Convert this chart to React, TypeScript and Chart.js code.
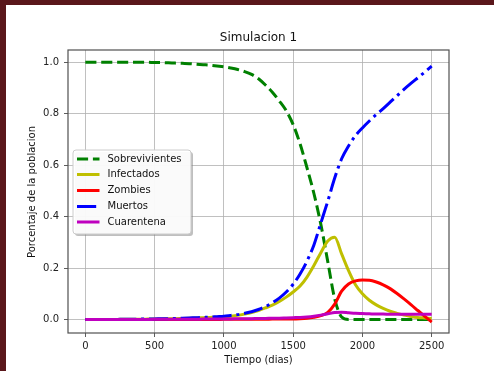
import React, { useEffect, useRef } from "react";
import { Chart, registerables } from "chart.js";

Chart.register(...registerables);

const days = [0, 50, 100, 150, 200, 250, 300, 350, 400, 450, 500, 550, 600, 650, 700, 750, 800, 850, 900, 950, 1000, 1050, 1100, 1150, 1200, 1250, 1300, 1350, 1400, 1450, 1500, 1550, 1600, 1650, 1700, 1750, 1800, 1850, 1900, 1950, 2000, 2050, 2100, 2150, 2200, 2250, 2300, 2350, 2400, 2450, 2500];

const sobrevivientes = [1, 1, 1, 1, 1, 1, 1, 1, 1, 1, 0.999, 0.999, 0.998, 0.997, 0.996, 0.995, 0.993, 0.991, 0.989, 0.986, 0.983, 0.978, 0.972, 0.964, 0.953, 0.936, 0.912, 0.884, 0.85, 0.812, 0.758, 0.683, 0.59, 0.49, 0.37, 0.225, 0.08, 0.01, 0, 0, 0, 0, 0, 0, 0, 0, 0, 0, 0, 0, 0];

const infectados = [0, 0, 0, 0, 0, 0.0005, 0.001, 0.001, 0.001, 0.0015, 0.002, 0.002, 0.003, 0.003, 0.004, 0.005, 0.006, 0.007, 0.008, 0.009, 0.011, 0.013, 0.016, 0.021, 0.027, 0.035, 0.045, 0.056, 0.07, 0.087, 0.107, 0.13, 0.165, 0.21, 0.26, 0.305, 0.32, 0.255, 0.19, 0.135, 0.1, 0.075, 0.057, 0.043, 0.032, 0.024, 0.017, 0.012, 0.008, 0.006, 0.004];

const zombies = [0, 0, 0, 0, 0, 0, 0, 0, 0, 0, 0, 0, 0, 0, 0, 0, 0, 0, 0, 0, 0.0005, 0.0005, 0.001, 0.001, 0.001, 0.001, 0.001, 0.0015, 0.0015, 0.002, 0.002, 0.003, 0.005, 0.009, 0.015, 0.028, 0.06, 0.11, 0.138, 0.15, 0.154, 0.153, 0.146, 0.135, 0.12, 0.101, 0.08, 0.058, 0.035, 0.012, -0.01];

const muertos = [0, 0, 0, 0, 0, 0.0005, 0.001, 0.001, 0.0015, 0.002, 0.002, 0.003, 0.003, 0.004, 0.005, 0.006, 0.007, 0.008, 0.009, 0.011, 0.013, 0.016, 0.019, 0.024, 0.03, 0.039, 0.05, 0.065, 0.083, 0.107, 0.137, 0.177, 0.227, 0.29, 0.375, 0.46, 0.55, 0.625, 0.675, 0.715, 0.745, 0.772, 0.797, 0.82, 0.845, 0.87, 0.895, 0.918, 0.94, 0.962, 0.985];

const cuarentena = [0, 0, 0, 0, 0, 0, 0, 0, 0, 0, 0.0005, 0.0005, 0.001, 0.001, 0.001, 0.001, 0.001, 0.0015, 0.0015, 0.0015, 0.002, 0.002, 0.003, 0.003, 0.003, 0.004, 0.004, 0.005, 0.005, 0.006, 0.007, 0.008, 0.01, 0.013, 0.017, 0.022, 0.027, 0.028, 0.026, 0.024, 0.023, 0.022, 0.021, 0.021, 0.02, 0.02, 0.02, 0.02, 0.02, 0.02, 0.02];

const seriesNames = ["Sobrevivientes", "Infectados", "Zombies", "Muertos", "Cuarentena"];
const xTicks = [0, 500, 1000, 1500, 2000, 2500];
const yTicks = [0, 0.2, 0.4, 0.6, 0.8, 1.0];
const titleText = "Simulacion 1";
const xTitle = "Tiempo (dias)";
const yTitle = "Porcentaje de la poblacion";

const FONT = "'DejaVu Sans', sans-serif";

const styles = [
  { color: "#008000", dash: [11.1, 4.8] },
  { color: "#bfbf00", dash: [] as number[] },
  { color: "#ff0000", dash: [] as number[] },
  { color: "#0000ff", dash: [19.2, 4.8, 3, 4.8] },
  { color: "#bf00bf", dash: [] as number[] },
];

const allValues = [sobrevivientes, infectados, zombies, muertos, cuarentena];

const decorPlugin = {
  id: "decor",
  beforeDraw(chart: any) {
    const { ctx, width, height } = chart;
    ctx.save();
    ctx.fillStyle = "#5a171b";
    ctx.fillRect(0, 0, width, height);
    ctx.fillStyle = "#ffffff";
    ctx.fillRect(6, 5, width - 6, height - 5);
    ctx.restore();
  },
  afterDraw(chart: any) {
    const { ctx, chartArea } = chart;
    const { left, right, top, bottom } = chartArea;
    ctx.save();
    ctx.strokeStyle = "#505050";
    ctx.lineWidth = 1.2;
    ctx.setLineDash([]);
    ctx.strokeRect(left, top, right - left, bottom - top);
    const cx = (left + right) / 2;
    ctx.fillStyle = "#111";
    ctx.textAlign = "center";
    ctx.textBaseline = "middle";
    ctx.font = `12px ${FONT}`;
    ctx.fillText(titleText, cx, 38);
    ctx.font = `10px ${FONT}`;
    ctx.fillText(xTitle, cx, 360);
    ctx.save();
    ctx.translate(32, 192);
    ctx.rotate(-Math.PI / 2);
    ctx.fillText(yTitle, 0, 0);
    ctx.restore();

    const bx = 73, by = 150, bw = 118, bh = 84, r = 3;
    const rr = (x: number, y: number, w: number, h: number) => {
      ctx.beginPath();
      ctx.moveTo(x + r, y);
      ctx.lineTo(x + w - r, y);
      ctx.quadraticCurveTo(x + w, y, x + w, y + r);
      ctx.lineTo(x + w, y + h - r);
      ctx.quadraticCurveTo(x + w, y + h, x + w - r, y + h);
      ctx.lineTo(x + r, y + h);
      ctx.quadraticCurveTo(x, y + h, x, y + h - r);
      ctx.lineTo(x, y + r);
      ctx.quadraticCurveTo(x, y, x + r, y);
      ctx.closePath();
    };
    ctx.fillStyle = "rgba(128,128,128,0.5)";
    rr(bx + 2, by + 2, bw, bh);
    ctx.fill();
    ctx.fillStyle = "rgba(255,255,255,0.92)";
    rr(bx, by, bw, bh);
    ctx.fill();
    ctx.strokeStyle = "#cccccc";
    ctx.lineWidth = 1;
    ctx.stroke();

    ctx.textAlign = "left";
    ctx.textBaseline = "middle";
    ctx.font = `10px ${FONT}`;
    const rowY = [159, 174.5, 190.5, 206.5, 222];
    seriesNames.forEach((name, i) => {
      const y = rowY[i];
      ctx.strokeStyle = styles[i].color;
      ctx.lineWidth = 3;
      ctx.lineCap = "butt";
      ctx.setLineDash(styles[i].dash);
      ctx.beginPath();
      ctx.moveTo(77, y);
      ctx.lineTo(99.5, y);
      ctx.stroke();
      ctx.setLineDash([]);
      ctx.fillStyle = "#111";
      ctx.fillText(name, 107.5, y);
    });
    ctx.restore();
  },
};

export default function App() {
  const canvasRef = useRef<HTMLCanvasElement | null>(null);

  useEffect(() => {
    if (!canvasRef.current) return;
    const datasets = seriesNames.map((name, i) => ({
      label: name,
      data: days.map((d, j) => ({ x: d, y: allValues[i][j] })),
      borderColor: styles[i].color,
      backgroundColor: styles[i].color,
      borderWidth: 3,
      borderDash: styles[i].dash,
      borderCapStyle: "butt" as const,
      pointRadius: 0,
      fill: false,
      tension: 0.4,
      cubicInterpolationMode: "monotone" as const,
      order: 5 - i,
    }));

    const chart = new Chart(canvasRef.current, {
      type: "line",
      data: { datasets },
      plugins: [decorPlugin],
      options: {
        animation: false,
        responsive: true,
        maintainAspectRatio: false,
        layout: { padding: { left: 0, top: 50, right: 45, bottom: 0 } },
        plugins: {
          legend: { display: false },
          title: { display: false },
          tooltip: { enabled: false },
        },
        scales: {
          x: {
            type: "linear",
            min: -125,
            max: 2625,
            afterBuildTicks: (s: any) => {
              s.ticks = xTicks.map((v) => ({ value: v }));
            },
            afterFit: (s: any) => {
              s.height = 38;
            },
            ticks: {
              font: { family: FONT, size: 10 },
              color: "#222",
              padding: 3,
              maxRotation: 0,
              autoSkip: false,
              callback: (v: any) => String(v),
            },
            grid: {
              color: "#b0b0b0",
              lineWidth: 0.8,
              tickLength: 4,
              tickColor: "#333",
              drawTicks: true,
            },
            border: { display: false },
          },
          y: {
            type: "linear",
            min: -0.0525,
            max: 1.048,
            afterBuildTicks: (s: any) => {
              s.ticks = yTicks.map((v) => ({ value: v }));
            },
            afterFit: (s: any) => {
              s.width = 68;
            },
            ticks: {
              font: { family: FONT, size: 10 },
              color: "#222",
              padding: 5,
              autoSkip: false,
              callback: (v: any) => Number(v).toFixed(1),
            },
            grid: {
              color: "#b0b0b0",
              lineWidth: 0.8,
              tickLength: 4,
              tickColor: "#333",
              drawTicks: true,
            },
            border: { display: false },
          },
        },
      },
    });
    return () => chart.destroy();
  }, []);

  return (
    <div style={{ position: "absolute", left: 0, top: 0, width: 494, height: 371 }}>
      <canvas ref={canvasRef} />
    </div>
  );
}
